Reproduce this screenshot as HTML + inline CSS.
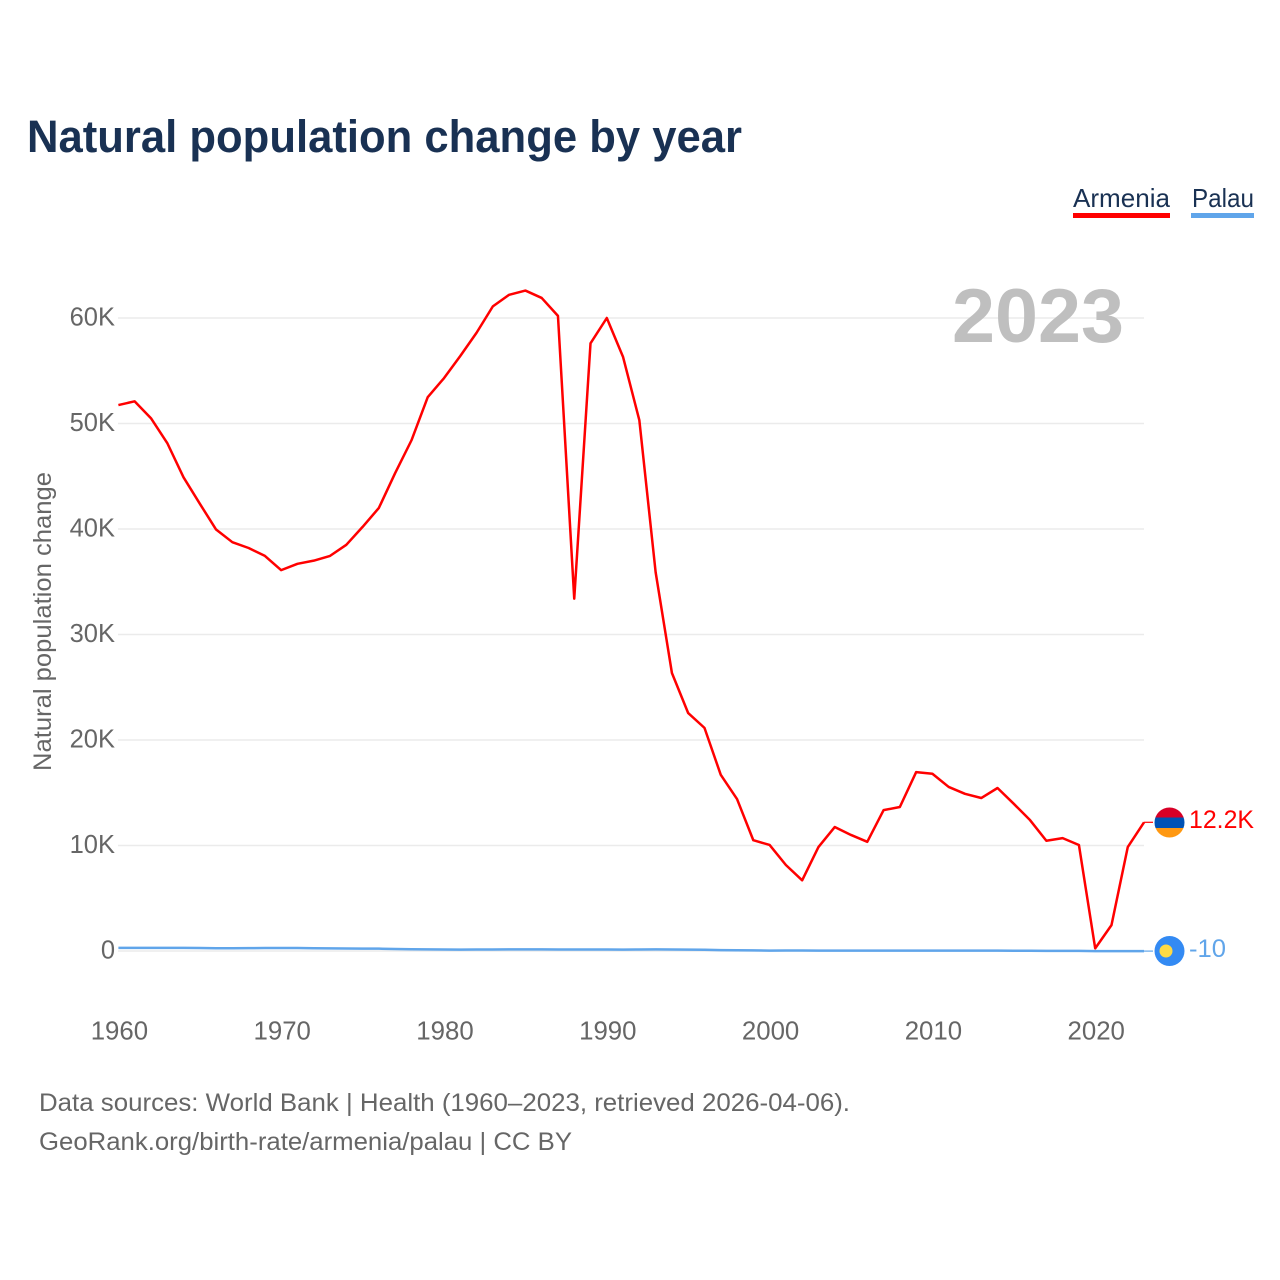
<!DOCTYPE html>
<html lang="en">
<head>
<meta charset="utf-8">
<title>Natural population change by year</title>
<style>
html,body{margin:0;padding:0;background:#fff;width:1280px;height:1280px;overflow:hidden}
svg{display:block}
text{font-family:"Liberation Sans",sans-serif}
</style>
</head>
<body>
<svg id="chart" xmlns="http://www.w3.org/2000/svg" width="1280" height="1280" viewBox="0 0 1280 1280">
  <rect width="1280" height="1280" fill="#fff"/>
  <defs>
    <clipPath id="flag-a"><circle cx="1169.5" cy="822.5" r="15"/></clipPath>
  </defs>
  <text x="27" y="152" font-size="45" font-weight="700" fill="#193153" textLength="715" lengthAdjust="spacingAndGlyphs">Natural population change by year</text>

  <g>
    <text x="1073" y="207" font-size="26" fill="#193153" textLength="97" lengthAdjust="spacingAndGlyphs">Armenia</text>
    <rect x="1073" y="213" width="97" height="5" fill="#ff0000"/>
  </g>
  <g>
    <text x="1192" y="207" font-size="26" fill="#193153" textLength="62" lengthAdjust="spacingAndGlyphs">Palau</text>
    <rect x="1191" y="213" width="63" height="5" fill="#60a5ea"/>
  </g>

  <g id="grid"></g>
  <g id="yticks"></g>
  <g id="xticks"></g>
  <text x="952" y="342" font-size="76" font-weight="700" fill="#bfbfbf" textLength="172" lengthAdjust="spacingAndGlyphs">2023</text>
  <text transform="translate(51,771) rotate(-90)" font-size="25" fill="#666" textLength="299" lengthAdjust="spacingAndGlyphs">Natural population change</text>
  <g id="series"></g>

  <g id="flag-armenia" clip-path="url(#flag-a)">
    <rect x="1154" y="807" width="31" height="10.5" fill="#d80027"/>
    <rect x="1154" y="817.5" width="31" height="10.5" fill="#0052b4"/>
    <rect x="1154" y="828" width="31" height="10" fill="#ff9811"/>
  </g>
  <g>
    <circle cx="1169.5" cy="951" r="15" fill="#338af3"/>
    <circle cx="1166" cy="951" r="6.5" fill="#ffda44"/>
  </g>
  <text x="1189" y="828" font-size="25" fill="#ff0000" textLength="65" lengthAdjust="spacingAndGlyphs">12.2K</text>
  <text x="1189" y="957" font-size="25" fill="#60a5ea" textLength="37" lengthAdjust="spacingAndGlyphs">-10</text>

  <text x="39" y="1111" font-size="25" fill="#666" textLength="811" lengthAdjust="spacingAndGlyphs">Data sources: World Bank | Health (1960–2023, retrieved 2026-04-06).</text>
  <text x="39" y="1150" font-size="25" fill="#666" textLength="533" lengthAdjust="spacingAndGlyphs">GeoRank.org/birth-rate/armenia/palau | CC BY</text>
</svg>
<script>
const startYear = 1960;
const armeniaValues = [
  51.75,52.1,50.5,48.15,44.9,42.4,39.95,38.75,38.2,37.45,
  36.1,36.7,37.0,37.45,38.5,40.2,42.0,45.3,48.4,52.5,
  54.3,56.4,58.6,61.1,62.2,62.6,61.9,60.2,33.4,57.6,
  60.0,56.3,50.3,35.9,26.35,22.55,21.15,16.7,14.4,10.5,
  10.05,8.15,6.7,9.85,11.75,11.0,10.35,13.35,13.65,16.95,
  16.8,15.55,14.9,14.5,15.45,13.95,12.4,10.45,10.7,10.05,
  0.25,2.45,9.85,12.2
];
const palauValues = [
  0.30,0.30,0.30,0.30,0.30,0.28,0.26,0.26,0.27,0.28,
  0.28,0.28,0.26,0.25,0.24,0.23,0.22,0.19,0.17,0.15,
  0.14,0.13,0.14,0.14,0.15,0.15,0.15,0.14,0.14,0.14,
  0.14,0.13,0.14,0.15,0.14,0.13,0.12,0.08,0.07,0.06,
  0.04,0.05,0.05,0.04,0.04,0.03,0.03,0.03,0.03,0.03,
  0.03,0.03,0.04,0.04,0.03,0.02,0.02,0.01,0.01,0.01,
  -0.01,-0.01,-0.01,-0.01
];
const yTickValues = [0,10,20,30,40,50,60];
const yTickLabels = ["0","10K","20K","30K","40K","50K","60K"];
const xTickYears = [1960,1970,1980,1990,2000,2010,2020];
const xScale = function (year) { return 118.4 + (year - 1960) * 16.28; };
const yScale = function (v) { return 951 - v * 10.55; };
const NS = 'http://www.w3.org/2000/svg';
const gridGroup = document.getElementById('grid');
const yGroup = document.getElementById('yticks');
const xGroup = document.getElementById('xticks');
const seriesGroup = document.getElementById('series');

yTickValues.forEach(function (v, i) {
  const gl = document.createElementNS(NS, 'line');
  
  
  gl.setAttribute('x1', 118);
  gl.setAttribute('x2', 1144);
  gl.setAttribute('y1', yScale(v));
  gl.setAttribute('y2', yScale(v));
  gl.setAttribute('stroke', '#ebebeb');
  gl.setAttribute('stroke-width', 1.5);
  gridGroup.appendChild(gl);
  const t = document.createElementNS(NS, 'text');
  
  
  t.setAttribute('x', 115);
  t.setAttribute('y', yScale(v) + 7.5);
  t.setAttribute('text-anchor', 'end');
  t.setAttribute('font-size', 25.5);
  t.setAttribute('fill', '#666');
  t.textContent = yTickLabels[i];
  yGroup.appendChild(t);
});

xTickYears.forEach(function (yr) {
  const t = document.createElementNS(NS, 'text');
  
  
  t.setAttribute('x', xScale(yr) + 1);
  t.setAttribute('y', 1039.5);
  t.setAttribute('text-anchor', 'middle');
  t.setAttribute('font-size', 25.8);
  t.setAttribute('fill', '#666');
  t.textContent = String(yr);
  xGroup.appendChild(t);
});

function drawSeries(values, color, name) {
  const pts = values.map(function (v, i) {
    return xScale(startYear + i).toFixed(2) + ',' + yScale(v).toFixed(2);
  }).join(' ');
  const line = document.createElementNS(NS, 'polyline');
  
  
  line.setAttribute('points', pts);
  line.setAttribute('fill', 'none');
  line.setAttribute('stroke', color);
  line.setAttribute('stroke-width', 2.5);
  line.setAttribute('stroke-linejoin', 'round');
  seriesGroup.appendChild(line);
  const last = values[values.length - 1];
  const conn = document.createElementNS(NS, 'line');
  
  
  conn.setAttribute('x1', xScale(startYear + values.length - 1));
  conn.setAttribute('x2', 1153);
  conn.setAttribute('y1', yScale(last));
  conn.setAttribute('y2', yScale(last));
  conn.setAttribute('stroke', color);
  conn.setAttribute('stroke-width', 1.2);
  seriesGroup.appendChild(conn);
}
drawSeries(armeniaValues, '#ff0000', 'armenia');
drawSeries(palauValues, '#60a5ea', 'palau');
</script>
</body>
</html>
